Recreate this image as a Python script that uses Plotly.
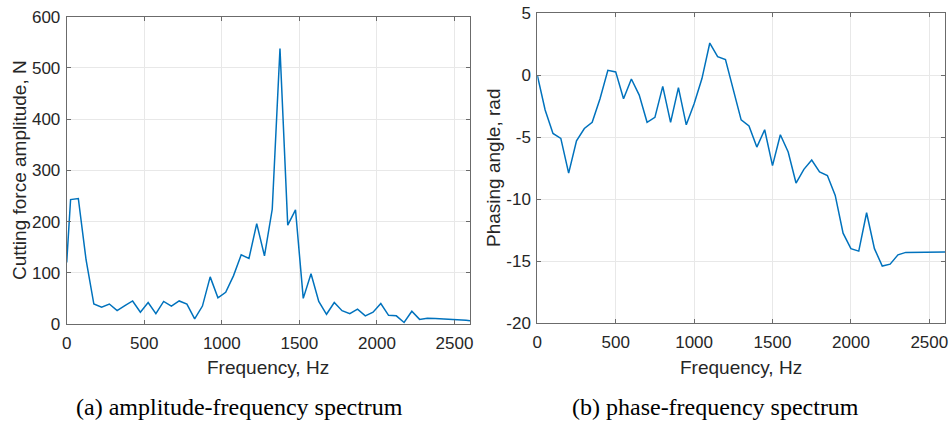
import plotly.graph_objects as go

# ---- data ----
amp_freq = [0, 25, 75, 125, 175, 225, 275, 325, 375, 425, 475, 525, 575, 625, 675, 725,
            775, 825, 875, 925, 975, 1025, 1075, 1125, 1175, 1225, 1275, 1325, 1375, 1425,
            1475, 1525, 1575, 1625, 1675, 1725, 1775, 1825, 1875, 1925, 1975, 2025, 2075,
            2125, 2175, 2225, 2275, 2325, 2375, 2425, 2475, 2525, 2575, 2600]
amp_vals = [120, 243, 245, 125, 39, 33, 39, 26, 36, 45, 23, 42, 20, 44, 35, 45,
            39, 10, 35, 92, 51, 62, 94, 135, 128, 196, 133, 224, 538, 193,
            223, 50, 98, 44, 19, 42, 26, 20, 29, 16, 23, 40, 17,
            16, 3, 25, 9, 11, 10.5, 10, 9, 8.5, 7.5, 6.5]

ph_freq = [0, 50, 100, 150, 200, 250, 300, 350, 400, 450, 500, 550, 600, 650, 700, 750,
           800, 850, 900, 950, 1000, 1050, 1100, 1150, 1200, 1250, 1300, 1350, 1400, 1450,
           1500, 1550, 1600, 1650, 1700, 1750, 1800, 1850, 1900, 1950, 2000, 2050, 2100,
           2150, 2200, 2250, 2300, 2350, 2400, 2450, 2500, 2550, 2600]
ph_vals = [0, -2.8, -4.7, -5.1, -7.9, -5.3, -4.3, -3.8, -1.9, 0.4, 0.27, -1.9, -0.3, -1.6,
           -3.8, -3.4, -0.9, -3.8, -1.0, -4.0, -2.3, -0.27, 2.6, 1.5, 1.26, -1.2, -3.6,
           -4.1, -5.8, -4.4, -7.3, -4.8, -6.2, -8.7, -7.6, -6.85, -7.8, -8.1, -9.7,
           -12.75, -14.0, -14.2, -11.1, -14.0, -15.4, -15.25, -14.5, -14.3, -14.28,
           -14.27, -14.27, -14.26, -14.26]

x_ticks = [0, 500, 1000, 1500, 2000, 2500]
amp_ticks = [0, 100, 200, 300, 400, 500, 600]
ph_ticks = [-20, -15, -10, -5, 0, 5]
ph_ticktext = ["-20", "-15", "-10", "-5", "0", "5"]

# ---- figure ----
W, H = 952, 421
LINE = "#0072BD"
TXT = "#262626"
AX = "#6b6b6b"
GRID = "#e8e8e8"
FONT = "Liberation Sans, Arial, sans-serif"

fig = go.Figure()
fig.add_trace(go.Scatter(x=amp_freq, y=amp_vals, mode="lines",
                         line=dict(color=LINE, width=1.5), xaxis="x", yaxis="y",
                         showlegend=False))
fig.add_trace(go.Scatter(x=ph_freq, y=ph_vals, mode="lines",
                         line=dict(color=LINE, width=1.5), xaxis="x2", yaxis="y2",
                         showlegend=False))

def px_x(p):
    return p / W

def px_y(p):
    return 1 - p / H

axis_common = dict(showline=True, mirror="ticks", linecolor=AX, linewidth=1,
                   ticks="inside", ticklen=4, tickcolor=AX, automargin=False,
                   showgrid=True, gridcolor=GRID, gridwidth=1, zeroline=False,
                   tickfont=dict(family=FONT, size=17, color=TXT))

fig.update_layout(
    width=W, height=H, margin=dict(l=0, r=0, t=0, b=0, pad=0),
    plot_bgcolor="white", paper_bgcolor="white",
    xaxis=dict(domain=[px_x(66.7), px_x(470)], range=[0, 2600], tickvals=x_ticks,
               anchor="y", ticklabelstandoff=4, **axis_common),
    yaxis=dict(domain=[px_y(324), px_y(16.7)], range=[0, 600], tickvals=amp_ticks,
               anchor="x", ticklabelstandoff=2, **axis_common),
    xaxis2=dict(domain=[px_x(537.3), px_x(945)], range=[0, 2600], tickvals=x_ticks,
                anchor="y2", ticklabelstandoff=4, **axis_common),
    yaxis2=dict(domain=[px_y(323), px_y(13.3)], range=[-20, 5], tickvals=ph_ticks,
                ticktext=ph_ticktext, anchor="x2", ticklabelstandoff=2, **axis_common),
)

title_font = dict(family=FONT, size=19, color=TXT)
cap_font = dict(family="Liberation Serif, Times New Roman, serif", size=24, color="black")

annots = [
    dict(text="Frequency, Hz", x=px_x(268), y=px_y(367), font=title_font),
    dict(text="Frequency, Hz", x=px_x(741), y=px_y(367), font=title_font),
    dict(text="Cutting force amplitude, N", x=px_x(19), y=px_y(170), font=title_font,
         textangle=-90),
    dict(text="Phasing angle, rad", x=px_x(493), y=px_y(168), font=title_font,
         textangle=-90),
    dict(text="(a) amplitude-frequency spectrum", x=px_x(239), y=px_y(407), font=cap_font),
    dict(text="(b) phase-frequency spectrum", x=px_x(715), y=px_y(407), font=cap_font),
]
for a in annots:
    fig.add_annotation(xref="paper", yref="paper", showarrow=False,
                       xanchor="center", yanchor="middle", **a)

fig.write_html("out.html", config={"displayModeBar": False},
               post_script="document.body.style.margin='0';document.body.style.padding='0';")
